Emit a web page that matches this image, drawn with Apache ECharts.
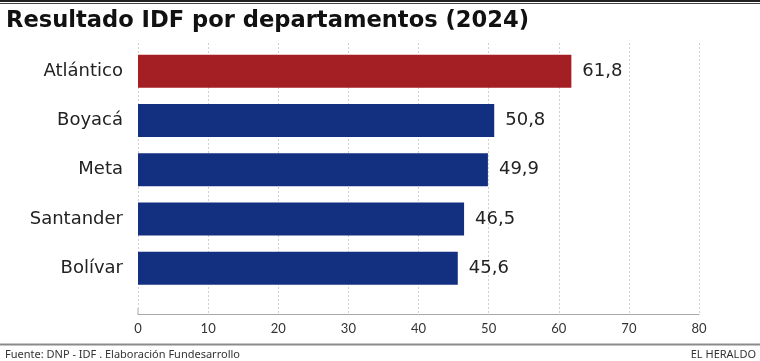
<!DOCTYPE html>
<html>
<head>
<meta charset="utf-8">
<script src="https://cdn.jsdelivr.net/npm/echarts@6/dist/echarts.min.js"></script>
<style>
html,body{margin:0;padding:0;background:#fff;}
#c{width:760px;height:361px;}
</style>
</head>
<body>
<div id="c"></div>
<script>
const titleText = 'Resultado IDF por departamentos (2024)';
const sourceText = 'Fuente: DNP - IDF . Elaboración Fundesarrollo';
const brandText = 'EL HERALDO';
const categories = ['Atlántico', 'Boyacá', 'Meta', 'Santander', 'Bolívar'];
const values = [61.8, 50.8, 49.9, 46.5, 45.6];
const highlight = 'Atlántico';
const axisMin = 0, axisMax = 80, axisStep = 10;

const RED = '#a41f23', BLUE = '#132f80';
const chart = echarts.init(document.getElementById('c'), null, {renderer: 'canvas'});
const L = 138, R = 61;
chart.setOption({
  animation: false,
  backgroundColor: '#fff',
  grid: [
    {left: L, right: R, top: 46.5, height: 246.5, containLabel: false},
    {left: L, right: R, top: 43, height: 271, containLabel: false}
  ],
  xAxis: [
    {gridIndex: 0, type: 'value', min: axisMin, max: axisMax, interval: axisStep,
     axisLine: {show: false}, axisTick: {show: false}, axisLabel: {show: false}, splitLine: {show: false}},
    {gridIndex: 1, type: 'value', min: axisMin, max: axisMax, interval: axisStep,
     axisLine: {show: true, lineStyle: {color: '#a8a8a8', width: 1}},
     axisTick: {show: false},
     axisLabel: {show: true, color: '#333', fontSize: 13, fontFamily: 'Lato', margin: 8},
     splitLine: {show: true, lineStyle: {color: '#d0d0d0', type: [2, 2], width: 1}}}
  ],
  yAxis: [
    {gridIndex: 0, type: 'category', inverse: true, data: categories,
     axisLine: {show: false}, axisTick: {show: false}, splitLine: {show: false},
     axisLabel: {color: '#222', fontSize: 18, fontFamily: 'DejaVu Sans', margin: 15}},
    {gridIndex: 1, type: 'value', show: false, min: 0, max: 1}
  ],
  series: [{
    type: 'bar', xAxisIndex: 0, yAxisIndex: 0,
    data: values,
    barWidth: 33,
    itemStyle: {color: p => p.name === highlight ? RED : BLUE},
    label: {show: true, position: 'right', distance: 11, color: '#222', fontSize: 18,
      fontFamily: 'DejaVu Sans',
      formatter: p => String(p.value).replace('.', ',')}
  }],
  graphic: [
    {type: 'line', shape: {x1: 0, y1: 1, x2: 760, y2: 1}, style: {stroke: '#222', lineWidth: 2}},
    {type: 'line', shape: {x1: 0, y1: 3.5, x2: 760, y2: 3.5}, style: {stroke: '#444', lineWidth: 1}},
    {type: 'text', x: 6, y: 21, style: {text: titleText, fill: '#111', font: 'bold 22.6px "DejaVu Sans"', verticalAlign: 'middle'}},
    {type: 'line', shape: {x1: 0, y1: 344.5, x2: 760, y2: 344.5}, style: {stroke: '#8a8a8a', lineWidth: 2}},
    {type: 'text', x: 5, y: 355, style: {text: sourceText, fill: '#333', font: '11px "Noto Sans"', verticalAlign: 'middle'}},
    {type: 'text', x: 756, y: 355, style: {text: brandText, fill: '#333', font: '11px "Noto Sans"', verticalAlign: 'middle', align: 'right'}},
    {type: 'line', shape: {x1: L, y1: 308, x2: L, y2: 314}, style: {stroke: '#a8a8a8', lineWidth: 1}}
  ]
});
</script>
</body>
</html>
